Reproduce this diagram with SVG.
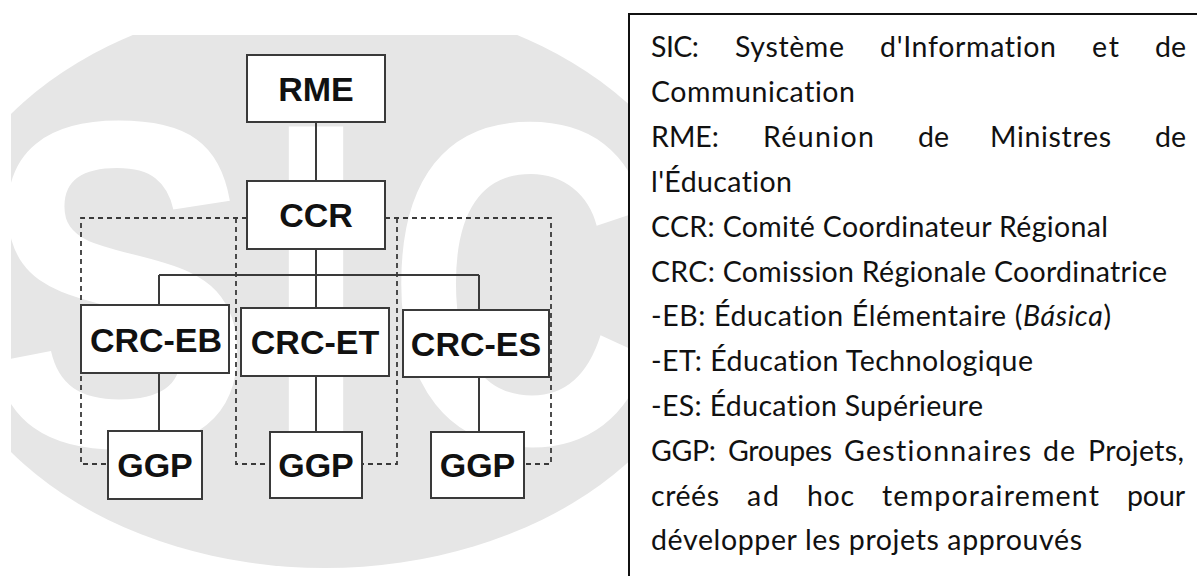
<svg xmlns="http://www.w3.org/2000/svg" width="1197" height="576" viewBox="0 0 1197 576">
<style>
.box{fill:#fff;stroke:#3a3a3a;stroke-width:2}
.lbl{font-family:"Liberation Sans",Arial,sans-serif;font-weight:bold;font-size:34px;fill:#111;text-anchor:middle}
.wm{font-family:"Liberation Sans",Arial,sans-serif;font-weight:bold;font-size:460px;fill:#fff;text-anchor:middle}
.solid{fill:none;stroke:#3a3a3a;stroke-width:2}
.dash{fill:none;stroke:#3a3a3a;stroke-width:1.8;stroke-dasharray:5 4}
.leg{font-family:Lato,"Noto Sans",sans-serif;font-size:28.5px;fill:#111;font-variant-ligatures:none}
</style>
<defs>
<clipPath id="wmclip"><rect x="11" y="35" width="700" height="560"/></clipPath>
</defs>
<rect width="1197" height="576" fill="#fff"/>
<g id="watermark" clip-path="url(#wmclip)">
<ellipse cx="325" cy="283" rx="390" ry="285" fill="#e6e6e6"/>
<text class="wm" transform="translate(118,445) scale(0.88,1.01)">S</text>
<text class="wm" transform="translate(316,443) scale(0.82,1)">I</text>
<text class="wm" transform="translate(522,443) scale(0.82,1)">C</text>
</g>
<g id="connectors">
<path class="solid" d="M316,122V181M316,249V275M159,275H479M159,275V305M316,275V308M479,275V310M159,373V431M316,376V432M479,377V432"/>
<path class="dash" d="M247,218H81V464H108M236,218V464H270M385,218H551V464H524M397,218V464H362"/>
</g>
<g id="RME"><rect class="box" x="247" y="55" width="138" height="67"/><text class="lbl" x="316" y="101">RME</text></g>
<g id="CCR"><rect class="box" x="247" y="181" width="138" height="68"/><text class="lbl" x="316" y="227">CCR</text></g>
<g id="CRC-EB"><rect class="box" x="81" y="305" width="148" height="68"/><text class="lbl" x="156" y="352">CRC-EB</text></g>
<g id="CRC-ET"><rect class="box" x="241" y="308" width="148" height="68"/><text class="lbl" x="315" y="354">CRC-ET</text></g>
<g id="CRC-ES"><rect class="box" x="403" y="310" width="146" height="67"/><text class="lbl" x="476" y="356">CRC-ES</text></g>
<g id="GGP1"><rect class="box" x="108" y="431" width="94" height="68"/><text class="lbl" x="155" y="477">GGP</text></g>
<g id="GGP2"><rect class="box" x="270" y="432" width="92" height="66"/><text class="lbl" x="316" y="477">GGP</text></g>
<g id="GGP3"><rect class="box" x="431" y="432" width="93" height="66"/><text class="lbl" x="477.5" y="477">GGP</text></g>
<g id="legend">
<rect x="629" y="14" width="600" height="600" fill="#fff" stroke="#111" stroke-width="2"/>
<text class="leg" x="651" y="57" textLength="48" lengthAdjust="spacing">SIC:</text>
<text class="leg" x="735" y="57" textLength="109" lengthAdjust="spacing">Système</text>
<text class="leg" x="880" y="57" textLength="176" lengthAdjust="spacing">d'Information</text>
<text class="leg" x="1092" y="57" textLength="27" lengthAdjust="spacing">et</text>
<text class="leg" x="1155" y="57" textLength="31" lengthAdjust="spacing">de</text>
<text class="leg" x="651" y="102" textLength="204" lengthAdjust="spacing">Communication</text>
<text class="leg" x="651" y="147" textLength="68" lengthAdjust="spacing">RME:</text>
<text class="leg" x="763" y="147" textLength="111" lengthAdjust="spacing">Réunion</text>
<text class="leg" x="918" y="147" textLength="31" lengthAdjust="spacing">de</text>
<text class="leg" x="990" y="147" textLength="121" lengthAdjust="spacing">Ministres</text>
<text class="leg" x="1155" y="147" textLength="31" lengthAdjust="spacing">de</text>
<text class="leg" x="651" y="192" textLength="141" lengthAdjust="spacing">l'Éducation</text>
<text class="leg" x="651" y="237" textLength="457" lengthAdjust="spacing">CCR: Comité Coordinateur Régional</text>
<text class="leg" x="651" y="282" textLength="516" lengthAdjust="spacing">CRC: Comission Régionale Coordinatrice</text>
<text class="leg" x="651" y="326" textLength="460" lengthAdjust="spacing">-EB: Éducation Élémentaire (<tspan font-style="italic">Básica</tspan>)</text>
<text class="leg" x="651" y="371" textLength="382" lengthAdjust="spacing">-ET: Éducation Technologique</text>
<text class="leg" x="651" y="416" textLength="332" lengthAdjust="spacing">-ES: Éducation Supérieure</text>
<text class="leg" x="651" y="461" textLength="65" lengthAdjust="spacing">GGP:</text>
<text class="leg" x="728" y="461" textLength="104" lengthAdjust="spacing">Groupes</text>
<text class="leg" x="844" y="461" textLength="187" lengthAdjust="spacing">Gestionnaires</text>
<text class="leg" x="1043" y="461" textLength="32" lengthAdjust="spacing">de</text>
<text class="leg" x="1088" y="461" textLength="96" lengthAdjust="spacing">Projets,</text>
<text class="leg" x="651" y="506" textLength="68" lengthAdjust="spacing">créés</text>
<text class="leg" x="747" y="506" textLength="32" lengthAdjust="spacing">ad</text>
<text class="leg" x="807" y="506" textLength="47" lengthAdjust="spacing">hoc</text>
<text class="leg" x="882" y="506" textLength="217" lengthAdjust="spacing">temporairement</text>
<text class="leg" x="1127" y="506" textLength="58" lengthAdjust="spacing">pour</text>
<text class="leg" x="651" y="550" textLength="431" lengthAdjust="spacing">développer les projets approuvés</text>
</g>
</svg>
